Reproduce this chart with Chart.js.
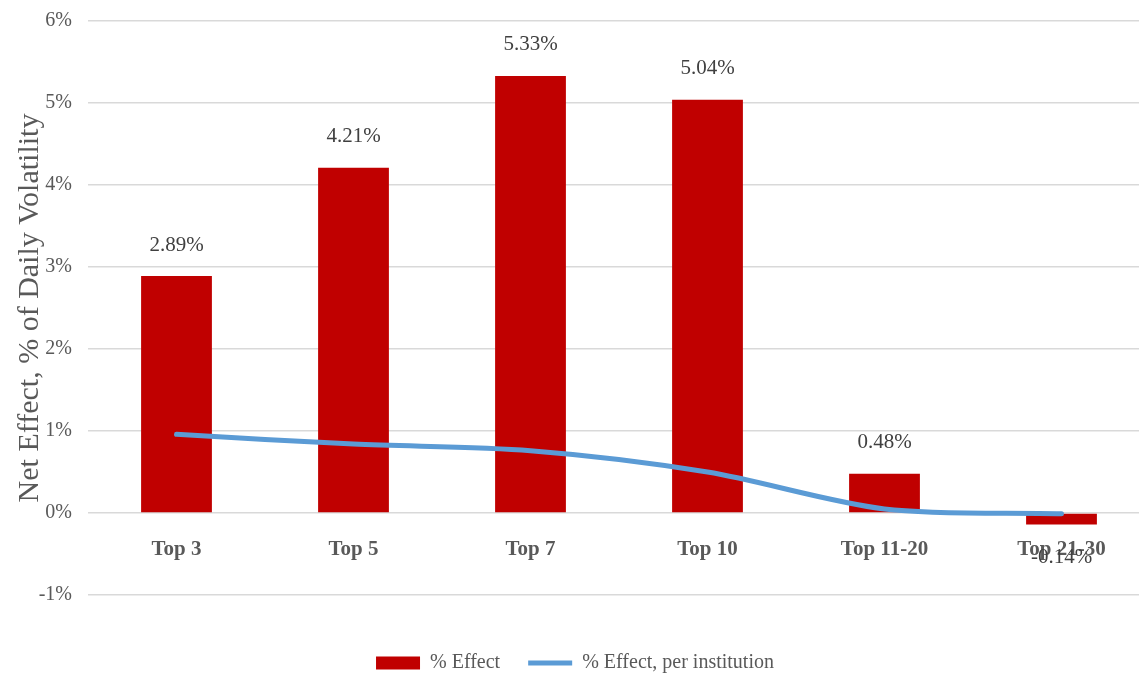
<!DOCTYPE html>
<html>
<head>
<meta charset="utf-8">
<script src="https://cdn.jsdelivr.net/npm/chart.js@4/dist/chart.umd.min.js"></script>
<style>
  html, body { margin: 0; padding: 0; background: #fff; overflow: hidden; }
  #wrap { width: 1152px; height: 677px; }
</style>
</head>
<body>
<div id="wrap"><canvas id="myChart" width="1152" height="677"></canvas></div>
<script>
// data
const categories = ['Top 3', 'Top 5', 'Top 7', 'Top 10', 'Top 11-20', 'Top 21-30'];
const effect = [2.89, 4.21, 5.33, 5.04, 0.48, -0.14];
const effectPerInstitution = [0.96, 0.84, 0.76, 0.50, 0.05, -0.01];
const yTicks = [-1, 0, 1, 2, 3, 4, 5, 6];

const serif = "'Liberation Serif', 'Times New Roman', serif";

// value labels above (or below, if negative) each bar
const barLabels = {
    id: 'barLabels',
    afterDatasetsDraw(chart) {
        let ctx = chart.ctx;
        let meta = chart.getDatasetMeta(0);
        ctx.save();
        ctx.font = '21px ' + serif;
        ctx.fillStyle = '#404040';
        ctx.textAlign = 'center';
        ctx.textBaseline = 'middle';
        meta.data.forEach(function(bar, i) {
            let v = effect[i];
            let y = v >= 0 ? bar.y - 31 : bar.y + 33;
            ctx.fillText(v.toFixed(2) + '%', bar.x, y);
        });
        ctx.restore();
    }
};

let canvas = document.getElementById('myChart');
let myChart = new Chart(canvas, {
    data: {
        labels: categories,
        datasets: [
            {
                type: 'bar',
                label: '% Effect',
                data: effect,
                backgroundColor: '#C00000',
                borderWidth: 0,
                barPercentage: 0.4,
                categoryPercentage: 1,
                order: 1
            },
            {
                type: 'line',
                label: '% Effect, per institution',
                data: effectPerInstitution,
                borderColor: '#5B9BD5',
                backgroundColor: '#5B9BD5',
                borderWidth: 5,
                borderCapStyle: 'round',
                pointRadius: 0,
                tension: 0.3,
                fill: false,
                order: 0
            }
        ]
    },
    options: {
        responsive: false,
        animation: false,
        devicePixelRatio: 1,
        layout: { padding: { top: 21, left: 0, right: 2, bottom: -6 } },
        scales: {
            x: {
                position: { y: 0 },
                grid: { display: false },
                border: { display: false },
                ticks: {
                    padding: 16,
                    color: '#595959',
                    font: { family: serif, size: 21, weight: 'bold' }
                }
            },
            y: {
                min: -1,
                max: 6,
                afterFit: function(scale) { scale.width = 88; },
                afterBuildTicks: function(scale) {
                    scale.ticks = yTicks.map(function(v) { return { value: v }; });
                },
                grid: { color: '#d9d9d9', lineWidth: 1.5, drawTicks: true, tickLength: 11, tickColor: 'rgba(0,0,0,0)' },
                border: { display: false },
                ticks: {
                    padding: 5,
                    color: '#595959',
                    font: { family: serif, size: 20 },
                    callback: function(v) { return v + '%'; }
                },
                title: {
                    display: true,
                    text: 'Net Effect, % of Daily Volatility',
                    color: '#595959',
                    font: { family: serif, size: 30 },
                    padding: { top: 12, bottom: 0 }
                }
            }
        },
        plugins: {
            tooltip: { enabled: false },
            legend: {
                position: 'bottom',
                title: { display: true, text: ' ', font: { size: 10 }, padding: { top: 0, bottom: 18 } },
                labels: {
                    usePointStyle: true,
                    pointStyleWidth: 44,
                    boxHeight: 13,
                    padding: 28,
                    color: '#595959',
                    font: { family: serif, size: 20 },
                    sort: function(a, b) { return a.datasetIndex - b.datasetIndex; },
                    generateLabels: function(chart) {
                        let items = Chart.defaults.plugins.legend.labels.generateLabels(chart);
                        items.forEach(function(it) {
                            it.pointStyle = it.datasetIndex === 0 ? 'rect' : 'line';
                        });
                        return items;
                    }
                }
            }
        }
    },
    plugins: [barLabels]
});
</script>
</body>
</html>
